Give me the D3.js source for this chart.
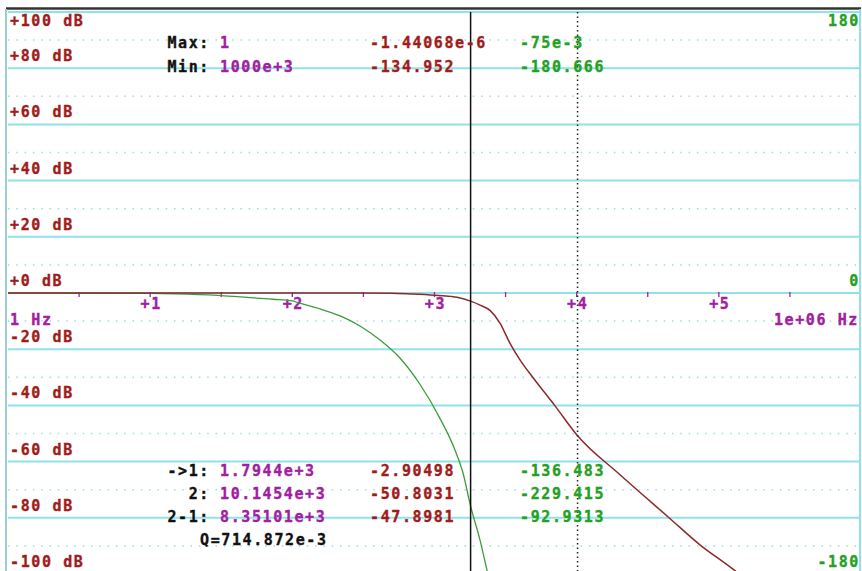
<!DOCTYPE html>
<html>
<head>
<meta charset="utf-8">
<script src="https://cdn.jsdelivr.net/npm/d3@7"></script>
<style>
  html, body { margin: 0; padding: 0; background: #fff; }
  svg text { font-family: "DejaVu Sans Mono", "Liberation Mono", monospace; font-weight: bold; font-size: 15px; letter-spacing: 1.6px; stroke-width: 0.35px; }
</style>
</head>
<body>
<div id="chart"></div>
<script>
// magnitude curve (dB)
const magHz = [1, 10, 100, 300, 500, 700, 1000, 1300, 1440, 1794.4, 2090, 2456, 2886, 3390, 3993, 5000, 7000, 10145.4, 20000, 44000, 74000, 123000, 200000, 500000, 1000000];
const magDb = [0, 0, 0, -0.02, -0.1, -0.4, -0.8, -1.2, -1.5, -2.9, -4.3, -6.2, -10.7, -17.8, -23.8, -30.5, -40, -50.8, -64.5, -79.7, -89.7, -97.9, -106.5, -122.5, -134.95];

// phase curve (degrees)
const phaseHz = [1, 10, 15, 30, 43, 73, 100, 114, 157, 217, 299, 414, 571, 788, 1088, 1393, 1587, 1794.4, 2090, 2340, 2620];
const phaseDeg = [-0.075, -0.3, -0.5, -1.5, -2.5, -4, -5.1, -6.7, -10.2, -14.7, -21.1, -30.1, -41.6, -58.3, -80, -100.5, -115.3, -136.5, -158.3, -177.5, -196];

// axes
const dbTicks = [100, 80, 60, 40, 20, 0, -20, -40, -60, -80, -100];
const dbMinor = [90, 70, 50, 30, 10, -10, -30, -50, -70, -90];
const phaseTicks = [180, 0, -180];
const decades = [1, 2, 3, 4, 5];
const halfDecades = [0.5, 1, 1.5, 2, 2.5, 3, 3.5, 4, 4.5, 5, 5.5];

// cursors and readouts
const cursorHz = [1794.4, 10145.4];
const statLabels = ["Max:", "Min:"];
const statFreq = ["1", "1000e+3"];
const statMag = ["-1.44068e-6", "-134.952"];
const statPhase = ["-75e-3", "-180.666"];
const curLabels = ["->1:", "2:", "2-1:"];
const curFreq = ["1.7944e+3", "10.1454e+3", "8.35101e+3"];
const curMag = ["-2.90498", "-50.8031", "-47.8981"];
const curPhase = ["-136.483", "-229.415", "-92.9313"];
const qText = "Q=714.872e-3";

const W = 862, H = 571;
const pLeft = 8, pRight = 861, pTop = 12, pBottom = 574;

const cGrid = "#8fe3e8", cRed = "#a01c1c", cCurve = "#8b2a2a", cPurple = "#a020a0", cGreen = "#25a025", cGreenLine = "#3c9c3c";

const svg = d3.select("#chart").append("svg")
    .attr("width", W)
    .attr("height", H);

const x = d3.scaleLog().domain([1, 1e6]).range([pLeft, pRight]);
const y = d3.scaleLinear().domain([100, -100]).range([pTop, pBottom]);
const yPh = d3.scaleLinear().domain([180, -180]).range([pTop, pBottom]);

svg.append("defs").append("clipPath").attr("id", "plot")
    .append("rect").attr("x", pLeft).attr("y", pTop).attr("width", pRight - pLeft).attr("height", pBottom - pTop);

// dotted minor grid
svg.selectAll(".minor").data(dbMinor).enter().append("line")
    .attr("x1", pLeft).attr("x2", pRight)
    .attr("y1", d => y(d)).attr("y2", d => y(d))
    .attr("stroke", "#9fdde2").attr("stroke-width", 1.5)
    .attr("stroke-dasharray", "1.5,6.8");

// solid major grid
svg.selectAll(".major").data(dbTicks).enter().append("line")
    .attr("x1", pLeft).attr("x2", pRight)
    .attr("y1", d => y(d)).attr("y2", d => y(d))
    .attr("stroke", cGrid).attr("stroke-width", 2);

// frame
svg.append("line").attr("x1", pLeft - 2).attr("x2", pRight).attr("y1", 8.5).attr("y2", 8.5)
    .attr("stroke", "#333").attr("stroke-width", 2.5);
svg.append("line").attr("x1", 6).attr("x2", 6).attr("y1", 9).attr("y2", H)
    .attr("stroke", "#9ccfd2").attr("stroke-width", 2);
svg.append("line").attr("x1", 860).attr("x2", 860).attr("y1", 9).attr("y2", H)
    .attr("stroke", cGrid).attr("stroke-width", 2);

// x ticks on the 0 dB line
svg.selectAll(".tick").data(halfDecades).enter().append("line")
    .attr("x1", d => x(Math.pow(10, d))).attr("x2", d => x(Math.pow(10, d)))
    .attr("y1", y(0) - 1).attr("y2", y(0) + 4)
    .attr("stroke", cPurple).attr("stroke-width", 1.3);

function label(sel, color) {
    return sel.attr("fill", color).attr("stroke", color);
}

label(svg.selectAll(".xlab").data(decades).enter().append("text")
    .attr("x", d => x(Math.pow(10, d)) + 1)
    .attr("y", y(0) + 16)
    .attr("text-anchor", "middle")
    .text(d => "+" + d), cPurple);

label(svg.append("text").attr("x", 10).attr("y", y(0) + 32).text("1 Hz"), cPurple);
label(svg.append("text").attr("x", 859).attr("y", y(0) + 32).attr("text-anchor", "end").text("1e+06 Hz"), cPurple);

// dB labels
label(svg.selectAll(".ylab").data(dbTicks).enter().append("text")
    .attr("x", 10)
    .attr("y", d => d === 100 ? y(d) + 14 : y(d) - 7)
    .text(d => (d >= 0 ? "+" : "") + d + " dB"), cRed);

// phase labels
label(svg.selectAll(".plab").data(phaseTicks).enter().append("text")
    .attr("x", 860)
    .attr("y", d => d === 180 ? yPh(d) + 14 : yPh(d) - 7)
    .attr("text-anchor", "end")
    .text(d => d), cGreen);

// curves
const plot = svg.append("g").attr("clip-path", "url(#plot)");

const phaseLine = d3.line()
    .x((d, i) => x(phaseHz[i]))
    .y(d => yPh(d))
    .curve(d3.curveMonotoneX);

const magLine = d3.line()
    .x((d, i) => x(magHz[i]))
    .y(d => y(d))
    .curve(d3.curveMonotoneX);

plot.append("path").attr("d", phaseLine(phaseDeg))
    .attr("fill", "none").attr("stroke", cGreenLine).attr("stroke-width", 1.3);
plot.append("path").attr("d", magLine(magDb))
    .attr("fill", "none").attr("stroke", cCurve).attr("stroke-width", 1.5);

// cursors
svg.append("line")
    .attr("x1", x(cursorHz[0])).attr("x2", x(cursorHz[0]))
    .attr("y1", pTop).attr("y2", H)
    .attr("stroke", "#111").attr("stroke-width", 1.5);
svg.append("line")
    .attr("x1", x(cursorHz[1])).attr("x2", x(cursorHz[1]))
    .attr("y1", pTop).attr("y2", H)
    .attr("stroke", "#222").attr("stroke-width", 1.5)
    .attr("stroke-dasharray", "1.5,3");

// readouts
function rows(labels, fr, mag, ph, y0, dy) {
    labels.forEach((lab, i) => {
        const yy = y0 + i * dy;
        label(svg.append("text").attr("x", 210).attr("y", yy).attr("text-anchor", "end").text(lab), "#111");
        label(svg.append("text").attr("x", 220).attr("y", yy).text(fr[i]), cPurple);
        label(svg.append("text").attr("x", 370).attr("y", yy).text(mag[i]), cRed);
        label(svg.append("text").attr("x", 520).attr("y", yy).text(ph[i]), cGreen);
    });
}
rows(statLabels, statFreq, statMag, statPhase, 48, 24);
rows(curLabels, curFreq, curMag, curPhase, 476, 23);
label(svg.append("text").attr("x", 200).attr("y", 545).text(qText), "#111");
</script>
</body>
</html>
